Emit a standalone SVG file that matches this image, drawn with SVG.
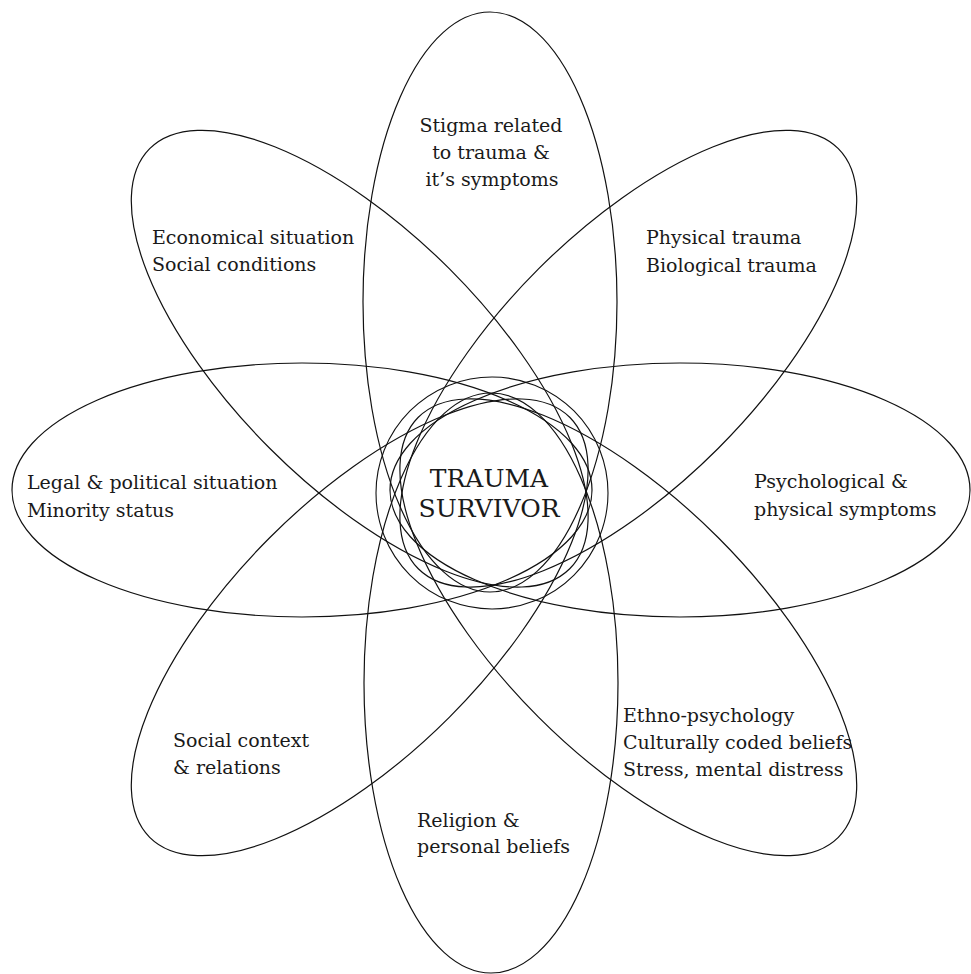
<svg xmlns="http://www.w3.org/2000/svg" width="971" height="974" viewBox="0 0 971 974">
  <style>
    .petal { fill: none; stroke: #111; stroke-width: 1.2; }
    .ring { fill: none; stroke: #111; stroke-width: 1.1; }
    .lbl { font-family: "DejaVu Serif", "Liberation Serif", serif; font-size: 19px; fill: #1a1a1a; }
    .core { font-family: "DejaVu Serif", "Liberation Serif", serif; font-size: 25px; fill: #1a1a1a; text-anchor: middle; }
  </style>
  <rect width="971" height="974" fill="#fff"/>

  <g id="petal-top">
    <ellipse class="petal" cx="490" cy="302" rx="127" ry="290"/>
    <text class="lbl" text-anchor="middle"><tspan x="491" y="132">Stigma related</tspan><tspan x="491" y="159">to trauma &amp;</tspan><tspan x="492" y="186">it’s symptoms</tspan></text>
  </g>

  <g id="petal-top-right">
    <ellipse class="petal" cx="628.3" cy="358.7" rx="127" ry="297" transform="rotate(45 628.3 358.7)"/>
    <text class="lbl"><tspan x="646" y="244">Physical trauma</tspan><tspan x="646" y="272">Biological  trauma</tspan></text>
  </g>

  <g id="petal-right">
    <ellipse class="petal" cx="680" cy="490" rx="290" ry="127"/>
    <text class="lbl"><tspan x="754" y="488">Psychological &amp;</tspan><tspan x="754" y="516">physical symptoms</tspan></text>
  </g>

  <g id="petal-bottom-right">
    <ellipse class="petal" cx="628.3" cy="627.3" rx="127" ry="297" transform="rotate(-45 628.3 627.3)"/>
    <text class="lbl"><tspan x="623" y="722">Ethno-psychology</tspan><tspan x="623" y="749">Culturally coded beliefs</tspan><tspan x="623" y="776">Stress, mental distress</tspan></text>
  </g>

  <g id="petal-bottom">
    <ellipse class="petal" cx="491" cy="683" rx="127" ry="290"/>
    <text class="lbl"><tspan x="417" y="827">Religion  &amp;</tspan><tspan x="417" y="853">personal beliefs</tspan></text>
  </g>

  <g id="petal-bottom-left">
    <ellipse class="petal" cx="359.7" cy="627.3" rx="127" ry="297" transform="rotate(45 359.7 627.3)"/>
    <text class="lbl"><tspan x="173" y="747">Social context</tspan><tspan x="173" y="774">&amp; relations</tspan></text>
  </g>

  <g id="petal-left">
    <ellipse class="petal" cx="302" cy="490" rx="290" ry="127"/>
    <text class="lbl"><tspan x="27" y="489">Legal &amp; political  situation</tspan><tspan x="27" y="517">Minority status</tspan></text>
  </g>

  <g id="petal-top-left">
    <ellipse class="petal" cx="359.7" cy="358.7" rx="127" ry="297" transform="rotate(-45 359.7 358.7)"/>
    <text class="lbl"><tspan x="152" y="244">Economical  situation</tspan><tspan x="152" y="271">Social  conditions</tspan></text>
  </g>

  <g id="core">
    <circle class="ring" cx="492" cy="493" r="116"/>
    <text class="core"><tspan x="489" y="487">TRAUMA</tspan><tspan x="489" y="517">SURVIVOR</tspan></text>
  </g>
</svg>
